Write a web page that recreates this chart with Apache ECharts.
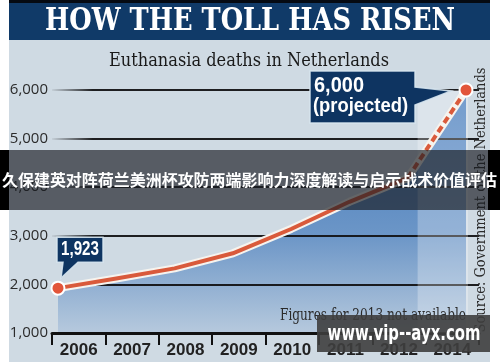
<!DOCTYPE html>
<html>
<head>
<meta charset="utf-8">
<script src="https://cdn.jsdelivr.net/npm/echarts@6/dist/echarts.min.js"></script>
<style>
html,body{margin:0;padding:0;background:#fff;}
#c{width:500px;height:362px;}
</style>
</head>
<body>
<div id="c"></div>
<script>
// ---- data ----
const years = ['2006', '2007', '2008', '2009', '2010', '2011', '2012', '2014'];
const deaths = [1923, 2120, 2330, 2640, 3140, 3700, 4190, 6000];
const yMin = 1000, yMax = 6000, yStep = 1000;
const titleText = 'HOW THE TOLL HAS RISEN';
const subtitleText = 'Euthanasia deaths in Netherlands';
const noteText = 'Figures for 2013 not available';
const sourceText = 'Source: Government of the Netherlands';
const projectedText = '(projected)';
const overlayText = '久保建英对阵荷兰美洲杯攻防两端影响力深度解读与启示战术价值评估';
const watermarkText = 'www.vip--ayx.com';

const BG = '#cfdae3';
const NAVY = '#103a68';
const ORANGE = '#d95a3b';
const WHITE = '#f6f3ee';

const fmt = v => Number(v).toLocaleString('en-US');
const solid = deaths.map((v, i) => i < deaths.length - 1 ? v : '-');
const dashed = deaths.map((v, i) => i >= deaths.length - 2 ? v : '-');
const ends = deaths.map((v, i) => (i === 0 || i === deaths.length - 1) ? v : '-');

const chart = echarts.init(document.getElementById('c'));

const mctx = document.createElement('canvas').getContext('2d');
function fitScale(text, font, w) { mctx.font = font; return w / mctx.measureText(text).width; }
function fitText(text, x, y, size, family, weight, color, width, z, extra) {
  const font = weight + ' ' + size + 'px ' + family;
  const s = fitScale(text, font, width);
  return Object.assign({
    type: 'text', x: x, y: y, scaleX: s, z: z, silent: true,
    style: { text: text, font: font, fill: color, align: 'center', verticalAlign: 'middle' }
  }, extra || {});
}

const splitGrad = new echarts.graphic.LinearGradient(0, 0, 1, 0, [
  { offset: 0, color: 'rgba(20,20,22,0)' },
  { offset: 0.1, color: 'rgba(20,20,22,0.95)' },
  { offset: 1, color: 'rgba(20,20,22,0.95)' }
]);
const areaGrad = new echarts.graphic.LinearGradient(0, 0, 0, 1, [
  { offset: 0, color: 'rgb(62,118,186)' },
  { offset: 0.6, color: 'rgb(108,150,199)' },
  { offset: 1, color: 'rgb(182,201,221)' }
]);

chart.setOption({
  animation: false,
  backgroundColor: '#ffffff',
  grid: [
    { left: 52, right: 21, top: 90, bottom: 29 },
    { left: 58, right: 34, top: 90, bottom: 29 }
  ],
  xAxis: [
    {
      type: 'category', gridIndex: 0, data: years, boundaryGap: true, z: 2,
      axisLine: { show: true, lineStyle: { color: '#111', width: 3 } },
      axisTick: { show: true, length: 12, interval: 0, lineStyle: { color: '#111', width: 2 } },
      axisLabel: { interval: 0, margin: 9, color: '#222', fontSize: 17, fontWeight: 'bold', fontFamily: 'Liberation Sans' }
    },
    { type: 'category', gridIndex: 1, data: years, boundaryGap: false, show: false }
  ],
  yAxis: [
    {
      type: 'value', gridIndex: 0, min: yMin, max: yMax, interval: yStep, z: 2,
      axisLine: { show: false }, axisTick: { show: false },
      axisLabel: { margin: 4, color: '#2b2b2b', fontSize: 15, fontFamily: 'Open Sans', formatter: fmt },
      splitLine: { show: true, lineStyle: { color: splitGrad, width: 2 } }
    },
    { type: 'value', gridIndex: 1, min: yMin, max: yMax, interval: yStep, show: false }
  ],
  series: [
    { type: 'line', xAxisIndex: 0, yAxisIndex: 0, data: [] },
    {
      type: 'line', xAxisIndex: 1, yAxisIndex: 1, data: deaths, symbol: 'none', z: 1, silent: true,
      lineStyle: { width: 0 }, areaStyle: { color: areaGrad, opacity: 1 }
    },
    {
      type: 'line', xAxisIndex: 1, yAxisIndex: 1, data: solid, symbol: 'none', z: 4, silent: true,
      lineStyle: { color: WHITE, width: 8, join: 'round', cap: 'round' }
    },
    {
      type: 'line', xAxisIndex: 1, yAxisIndex: 1, data: dashed, symbol: 'none', z: 4, silent: true,
      lineStyle: { color: WHITE, width: 8, join: 'round', cap: 'round' }
    },
    {
      type: 'line', xAxisIndex: 1, yAxisIndex: 1, data: solid, symbol: 'none', z: 5, silent: true,
      lineStyle: { color: ORANGE, width: 4, join: 'round', cap: 'round' }
    },
    {
      type: 'line', xAxisIndex: 1, yAxisIndex: 1, data: dashed, symbol: 'none', z: 5, silent: true,
      lineStyle: { color: ORANGE, width: 4, type: [7, 4] }
    },
    {
      type: 'scatter', xAxisIndex: 1, yAxisIndex: 1, data: ends, symbolSize: 13, z: 6, silent: true,
      itemStyle: { color: '#e2553a', borderColor: '#ffffff', borderWidth: 2, opacity: 1 }
    }
  ]
});

const finder = { xAxisIndex: 1, yAxisIndex: 1 };
const n = years.length;
const p0 = chart.convertToPixel(finder, [0, deaths[0]]);
const pN = chart.convertToPixel(finder, [n - 1, deaths[n - 1]]);
const pPrev = chart.convertToPixel(finder, [n - 2, deaths[n - 2]]);
const yTop = chart.convertToPixel(finder, [0, yMax])[1];
const yBot = chart.convertToPixel(finder, [0, yMin])[1];

// callout 1
const c1 = { L: p0[0] - 1, R: p0[0] + 45, T: p0[1] - 51, B: p0[1] - 26 };
const poly1 = [[c1.L, c1.T], [c1.R, c1.T], [c1.R, c1.B], [p0[0] + 20, c1.B], [p0[0] + 3, p0[1] - 10], [p0[0] + 5, c1.B], [c1.L, c1.B]];
// callout 2
const c2 = { L: pN[0] - 156, R: pN[0] - 51, T: pN[1] - 19, B: pN[1] + 33 };
const poly2 = [[c2.L, c2.T], [c2.R, c2.T], [c2.R, pN[1] - 3], [pN[0] - 15, pN[1] + 1], [c2.R, pN[1] + 15], [c2.R, c2.B], [c2.L, c2.B]];

const colL = pPrev[0] + 0.17 * (pN[0] - pPrev[0]);
const colR = pN[0] + 2;

function leftText(text, x, y, size, width, z) {
  const font = 'bold ' + size + 'px Liberation Sans';
  const s = fitScale(text, font, width);
  return { type: 'text', x: x, y: y, scaleX: s, z: z, silent: true,
    style: { text: text, font: font, fill: '#ffffff', align: 'left', verticalAlign: 'middle' } };
}

chart.setOption({
  graphic: { elements: [
    { type: 'rect', shape: { x: 9, y: 0, width: 481, height: 362 }, style: { fill: BG }, z: -10, silent: true },
    { type: 'rect', shape: { x: colL, y: yTop, width: colR - colL, height: yBot - yTop }, style: { fill: 'rgba(255,255,255,0.28)' }, z: 3, silent: true },
    { type: 'rect', shape: { x: 9, y: 0, width: 481, height: 40 }, style: { fill: NAVY }, z: 20, silent: true },
    { type: 'rect', shape: { x: 9, y: 0, width: 481, height: 3 }, style: { fill: '#050a12' }, z: 21, silent: true },
    fitText(titleText, 250, 21.5, 32, 'DejaVu Serif', 'bold', '#ffffff', 410, 22),
    fitText(subtitleText, 249, 61, 19, 'DejaVu Serif', 'normal', '#1a1a1a', 280, 22),
    fitText(noteText, 373, 316, 16, 'DejaVu Serif', 'normal', '#2a2a2a', 186, 22),
    fitText(sourceText, 481, 200, 14, 'DejaVu Serif', 'normal', '#2a2a2a', 265, 22, { rotation: Math.PI / 2 }),
    { type: 'polygon', shape: { points: poly1 }, style: { fill: '#0e3461', stroke: 'rgba(215,230,240,0.9)', lineWidth: 1.5 }, z: 30, silent: true },
    fitText(fmt(deaths[0]), p0[0] + 22, p0[1] - 38.5, 21, 'Liberation Sans', 'bold', '#ffffff', 38, 31),
    { type: 'polygon', shape: { points: poly2 }, style: { fill: '#0e3461', stroke: 'rgba(215,230,240,0.9)', lineWidth: 1.5 }, z: 30, silent: true },
    leftText(fmt(deaths[n - 1]), c2.L + 4, pN[1] - 4, 22, 50, 31),
    leftText(projectedText, c2.L + 3, pN[1] + 16, 21, 95, 31),
    // overlay band: opaque black edges, translucent middle
    { type: 'rect', shape: { x: 0, y: 150, width: 9, height: 60 }, style: { fill: '#000000' }, z: 90, silent: true },
    { type: 'rect', shape: { x: 488, y: 150, width: 12, height: 60 }, style: { fill: '#000000' }, z: 90, silent: true },
    { type: 'rect', shape: { x: 9, y: 150, width: 479, height: 60 }, style: { fill: 'rgba(24,28,33,0.66)' }, z: 92, silent: true },
    fitText(overlayText, 249.5, 180, 16, 'Noto Sans CJK SC', 'bold', '#ffffff', 495, 95),
    // watermark
    { type: 'rect', shape: { x: 317, y: 315, width: 173, height: 37 }, style: { fill: 'rgba(62,62,62,0.9)' }, z: 90, silent: true },
    fitText(watermarkText, 404, 335, 21, 'DejaVu Sans', 'bold', '#ffffff', 153, 95)
  ] }
});
</script>
</body>
</html>
